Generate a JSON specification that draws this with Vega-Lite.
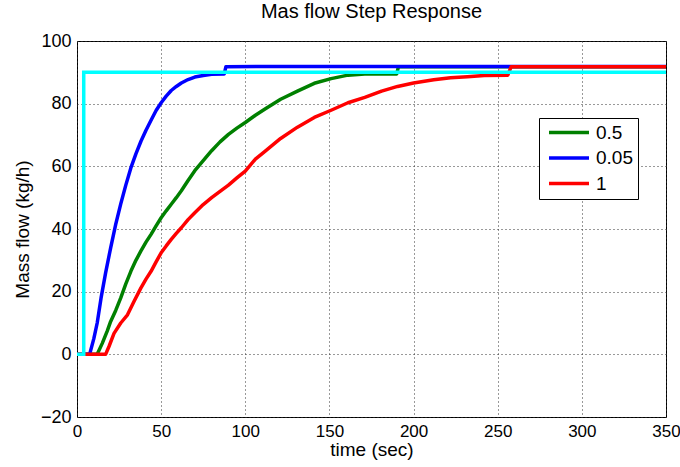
{
  "$schema": "https://vega.github.io/schema/vega-lite/v6.json",
  "width": 589,
  "height": 376,
  "autosize": {"type": "none"},
  "padding": {"left": 77, "top": 41, "right": 14, "bottom": 50},
  "background": "white",
  "title": {"text": "Mas flow Step Response", "fontSize": 20, "fontWeight": "normal", "color": "#000", "offset": 10, "font": "Liberation Sans"},
  "config": {
    "font": "Liberation Sans",
    "view": {"stroke": "#000", "strokeWidth": 1},
    "axis": {
      "domain": false,
      "ticks": false,
      "grid": true,
      "gridColor": "#333",
      "gridDash": [1, 3],
      "gridWidth": 1,
      "labelFontSize": 18,
      "labelColor": "#000",
      "titleColor": "#000",
      "titleFontWeight": "normal"
    },
    "legend": {
      "labelFontSize": 19,
      "labelColor": "#000"
    }
  },
  "datasets": {
    "response": [
      {"series": "0.5", "t": 0, "v": 0}, {"series": "0.5", "t": 12, "v": 0}, {"series": "0.5", "t": 15, "v": 3.5},
      {"series": "0.5", "t": 18, "v": 7.5}, {"series": "0.5", "t": 20, "v": 10.5}, {"series": "0.5", "t": 23, "v": 14},
      {"series": "0.5", "t": 26, "v": 18}, {"series": "0.5", "t": 29, "v": 22.5}, {"series": "0.5", "t": 32, "v": 26.5},
      {"series": "0.5", "t": 35, "v": 30}, {"series": "0.5", "t": 38, "v": 33}, {"series": "0.5", "t": 41, "v": 35.8},
      {"series": "0.5", "t": 44, "v": 38.3}, {"series": "0.5", "t": 47, "v": 41}, {"series": "0.5", "t": 50, "v": 43.6},
      {"series": "0.5", "t": 53, "v": 45.8}, {"series": "0.5", "t": 56, "v": 47.9}, {"series": "0.5", "t": 59, "v": 50},
      {"series": "0.5", "t": 62, "v": 52.2}, {"series": "0.5", "t": 66, "v": 55.5}, {"series": "0.5", "t": 70, "v": 58.6},
      {"series": "0.5", "t": 75, "v": 61.8}, {"series": "0.5", "t": 80, "v": 65}, {"series": "0.5", "t": 85, "v": 67.8},
      {"series": "0.5", "t": 90, "v": 70.2}, {"series": "0.5", "t": 95, "v": 72.2}, {"series": "0.5", "t": 100, "v": 74},
      {"series": "0.5", "t": 106, "v": 76.3}, {"series": "0.5", "t": 111.5, "v": 78.2}, {"series": "0.5", "t": 121, "v": 81.4},
      {"series": "0.5", "t": 131, "v": 84}, {"series": "0.5", "t": 141, "v": 86.5}, {"series": "0.5", "t": 151, "v": 88},
      {"series": "0.5", "t": 161, "v": 89.1}, {"series": "0.5", "t": 171, "v": 89.5}, {"series": "0.5", "t": 181, "v": 89.5},
      {"series": "0.5", "t": 190, "v": 89.5}, {"series": "0.5", "t": 191, "v": 91.8}, {"series": "0.5", "t": 350, "v": 91.8},

      {"series": "0.05", "t": 0, "v": 0}, {"series": "0.05", "t": 7.5, "v": 0}, {"series": "0.05", "t": 10, "v": 5},
      {"series": "0.05", "t": 12, "v": 10}, {"series": "0.05", "t": 14.3, "v": 18}, {"series": "0.05", "t": 17, "v": 26},
      {"series": "0.05", "t": 20, "v": 34}, {"series": "0.05", "t": 23, "v": 41.5}, {"series": "0.05", "t": 26, "v": 48},
      {"series": "0.05", "t": 29, "v": 54}, {"series": "0.05", "t": 32, "v": 59.5}, {"series": "0.05", "t": 35, "v": 64},
      {"series": "0.05", "t": 38, "v": 68}, {"series": "0.05", "t": 41, "v": 71.5}, {"series": "0.05", "t": 44, "v": 74.7},
      {"series": "0.05", "t": 47, "v": 77.8}, {"series": "0.05", "t": 50, "v": 80.3}, {"series": "0.05", "t": 53, "v": 82.4},
      {"series": "0.05", "t": 56, "v": 84.2}, {"series": "0.05", "t": 59, "v": 85.5}, {"series": "0.05", "t": 62, "v": 86.6},
      {"series": "0.05", "t": 66, "v": 87.7}, {"series": "0.05", "t": 70, "v": 88.5}, {"series": "0.05", "t": 75, "v": 89},
      {"series": "0.05", "t": 80, "v": 89.4}, {"series": "0.05", "t": 87.5, "v": 89.5}, {"series": "0.05", "t": 88.5, "v": 91.8},
      {"series": "0.05", "t": 150, "v": 91.9}, {"series": "0.05", "t": 250, "v": 91.9}, {"series": "0.05", "t": 350, "v": 91.9},

      {"series": "1", "t": 0, "v": 0}, {"series": "1", "t": 17, "v": 0}, {"series": "1", "t": 19, "v": 2.5},
      {"series": "1", "t": 22, "v": 6.7}, {"series": "1", "t": 26, "v": 10}, {"series": "1", "t": 30, "v": 12.6},
      {"series": "1", "t": 34, "v": 17}, {"series": "1", "t": 38, "v": 21.2}, {"series": "1", "t": 41, "v": 24},
      {"series": "1", "t": 44, "v": 26.5}, {"series": "1", "t": 47, "v": 29.5}, {"series": "1", "t": 50, "v": 32.4},
      {"series": "1", "t": 53, "v": 34.6}, {"series": "1", "t": 56, "v": 36.7}, {"series": "1", "t": 59, "v": 38.6},
      {"series": "1", "t": 62, "v": 40.4}, {"series": "1", "t": 66, "v": 43}, {"series": "1", "t": 70, "v": 45.2},
      {"series": "1", "t": 75, "v": 47.8}, {"series": "1", "t": 80, "v": 50}, {"series": "1", "t": 85, "v": 52},
      {"series": "1", "t": 90, "v": 54}, {"series": "1", "t": 95, "v": 56.3}, {"series": "1", "t": 100, "v": 58.5},
      {"series": "1", "t": 106, "v": 62.3}, {"series": "1", "t": 111.5, "v": 64.7}, {"series": "1", "t": 121, "v": 68.9},
      {"series": "1", "t": 131, "v": 72.5}, {"series": "1", "t": 141, "v": 75.6}, {"series": "1", "t": 151, "v": 77.9},
      {"series": "1", "t": 161, "v": 80.3}, {"series": "1", "t": 171, "v": 82}, {"series": "1", "t": 181, "v": 84},
      {"series": "1", "t": 190.5, "v": 85.5}, {"series": "1", "t": 200, "v": 86.6}, {"series": "1", "t": 212, "v": 87.6},
      {"series": "1", "t": 222, "v": 88.3}, {"series": "1", "t": 232, "v": 88.6}, {"series": "1", "t": 242, "v": 89},
      {"series": "1", "t": 256, "v": 89.1}, {"series": "1", "t": 258, "v": 91.8}, {"series": "1", "t": 350, "v": 91.8}
    ],
    "setpoint": [
      {"t": 0, "v": 0}, {"t": 4, "v": 0}, {"t": 4, "v": 90}, {"t": 350, "v": 90}
    ]
  },
  "layer": [
    {
      "data": {"name": "response"},
      "transform": [{"filter": "datum.series === '0.5'"}],
      "mark": {"type": "line", "strokeWidth": 3.5, "strokeJoin": "round"},
      "encoding": {
        "x": {"field": "t", "type": "quantitative", "scale": {"domain": [0, 350], "nice": false}, "axis": {"values": [0, 50, 100, 150, 200, 250, 300, 350], "title": "time (sec)", "titleFontSize": 19, "labelFontSize": 17, "labelPadding": 6, "titlePadding": 1, "labelFlush": false}},
        "y": {"field": "v", "type": "quantitative", "scale": {"domain": [-20, 100], "nice": false}, "axis": {"values": [-20, 0, 20, 40, 60, 80, 100], "title": "Mass flow (kg/h)", "titleFontSize": 19, "labelPadding": 6, "titlePadding": 8}},
        "color": {
          "field": "series", "type": "nominal",
          "scale": {"domain": ["0.5", "0.05", "1"], "range": ["#008000", "#0000ff", "#ff0000"]},
          "legend": {
            "title": null, "orient": "none", "legendX": 462, "legendY": 77,
            "symbolType": "stroke", "symbolSize": 1600, "symbolStrokeWidth": 3.5, "symbolOffset": 3,
            "clipHeight": 19, "fillColor": "white", "strokeColor": "#000",
            "padding": 5, "rowPadding": 5.5, "labelOffset": 5
          }
        }
      }
    },
    {
      "data": {"name": "response"},
      "transform": [{"filter": "datum.series === '0.05'"}],
      "mark": {"type": "line", "strokeWidth": 3.5, "strokeJoin": "round"},
      "encoding": {
        "x": {"field": "t", "type": "quantitative"},
        "y": {"field": "v", "type": "quantitative"},
        "color": {"field": "series", "type": "nominal"}
      }
    },
    {
      "data": {"name": "response"},
      "transform": [{"filter": "datum.series === '1'"}],
      "mark": {"type": "line", "strokeWidth": 3.5, "strokeJoin": "round"},
      "encoding": {
        "x": {"field": "t", "type": "quantitative"},
        "y": {"field": "v", "type": "quantitative"},
        "color": {"field": "series", "type": "nominal"}
      }
    },
    {
      "data": {"name": "setpoint"},
      "mark": {"type": "line", "strokeWidth": 3.5, "color": "#00ffff", "strokeJoin": "miter"},
      "encoding": {
        "x": {"field": "t", "type": "quantitative"},
        "y": {"field": "v", "type": "quantitative"}
      }
    }
  ]
}
